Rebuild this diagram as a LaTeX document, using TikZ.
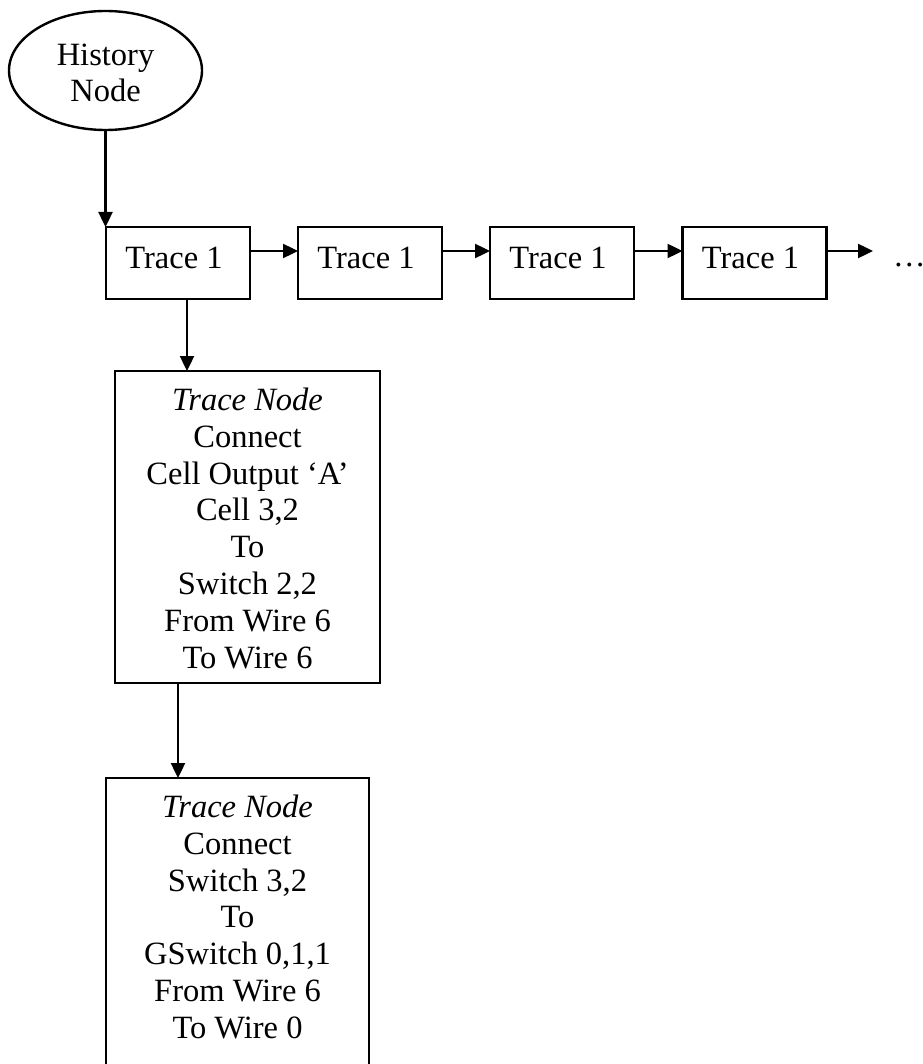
\documentclass[tikz,border=0pt]{standalone}
\usepackage{fontspec}
\setmainfont{Liberation Serif}
\usetikzlibrary{shapes.geometric,arrows.meta,calc}

\begin{document}
\begin{tikzpicture}[x=1pt,y=-1pt,
  every node/.style={font=\fontsize{32.5}{36.8}\selectfont, inner sep=0pt, outer sep=0pt},
  frame/.style={draw, line width=2.4pt},
  link/.style={line width=2.4pt, -{Triangle[length=15pt,width=14pt]}},
  tracebox/.style={frame, rectangle, minimum width=144pt, minimum height=72pt, text depth=11pt},
  recordbox/.style={frame, rectangle, minimum width=265pt},
  recordtext/.style={align=center, anchor=north}
]
\useasboundingbox (0,0) rectangle (922,1064);
\clip (0,0) rectangle (922,1064);

% history head
\node[frame, ellipse, minimum width=193pt, minimum height=119pt, align=center,
      font=\fontsize{32.5}{36}\selectfont, text height=63pt, text depth=0pt]
  (hist) at (105.5,70.5) {History\\Node};

% chain of traces
\node[tracebox] (t1) at (178,263) {Trace 1\hspace*{8pt}};
\node[tracebox] (t2) at (370,263) {Trace 1\hspace*{8pt}};
\node[tracebox] (t3) at (562,263) {Trace 1\hspace*{8pt}};
\node[tracebox] (t4) at (754.5,263) {Trace 1\hspace*{8pt}};
\coordinate (more) at (873,251);
\node[anchor=base west] (dots) at (893,267) {\dots};

% trace node records
\node[recordbox, minimum height=312pt] (tn1) at (247.5,527) {};
\node[recordtext] (tn1txt) at (247.5,388) {\textit{Trace Node}\\Connect\\Cell Output ‘A’\\Cell 3,2\\To\\Switch 2,2\\From Wire 6\\To Wire 6};
\node[recordbox, minimum width=263pt, minimum height=320pt, anchor=north] (tn2) at (237.5,778) {};
\node[recordtext] (tn2txt) at (237.5,795) {\textit{Trace Node}\\Connect\\Switch 3,2\\To\\GSwitch 0,1,1\\From Wire 6\\To Wire 0};

% connectors
\draw[link] (hist.south) -- (hist.south |- t1.north);
\draw[link] ([yshift=12pt]t1.east) -- ([yshift=12pt]t2.west);
\draw[link] ([yshift=12pt]t2.east) -- ([yshift=12pt]t3.west);
\draw[link] ([yshift=12pt]t3.east) -- ([yshift=12pt]t4.west);
\draw[link] ([yshift=12pt]t4.east) -- (more);
\draw[link] ([xshift=9pt]t1.south) -- ([xshift=9pt]t1.south |- tn1.north);
\draw[link] ([xshift=-69.5pt]tn1.south) -- ([xshift=-69.5pt]tn1.south |- tn2.north);
\end{tikzpicture}
\end{document}
